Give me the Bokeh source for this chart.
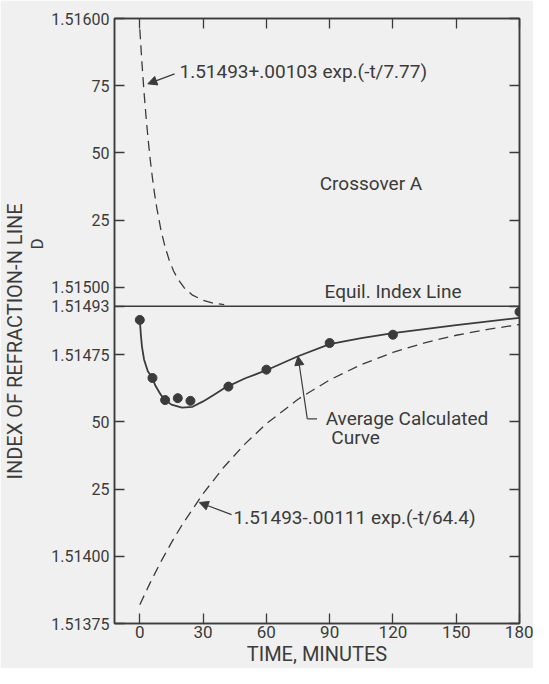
from bokeh.plotting import figure
from bokeh.models import (FixedTicker, LinearAxis, Span, Label, Arrow, NormalHead,
                          Range1d, Title)
from bokeh.embed import file_html
from bokeh.resources import INLINE

# ---------------- data ----------------
MEAS_T = [0, 6, 12, 18, 24, 42, 60, 90, 120, 180]
MEAS_N = [1.514879, 1.514663, 1.514581, 1.514588, 1.514578,
          1.514631, 1.514694, 1.514793, 1.514824, 1.514909]

AVG_T = [0, 0.5, 1, 2, 3.75, 6, 7.5, 10, 12, 15, 20, 25, 30, 35, 40, 42,
         50, 60, 75, 90, 105, 120, 150, 180]
AVG_N = [1.514879, 1.514824, 1.514781, 1.514732, 1.514689, 1.514661,
         1.514633, 1.514600, 1.514581, 1.514564, 1.514553, 1.514556,
         1.514576, 1.514600, 1.514625, 1.514633, 1.514662, 1.514692,
         1.514744, 1.514789, 1.514811, 1.514830, 1.514860, 1.514887]

UP_T = [0, 1, 2, 3, 4, 5, 6, 7, 8, 10, 12, 14, 16, 18, 21, 25, 30, 35, 40]
UP_N = [1.51596, 1.515836, 1.515726, 1.51563, 1.515546, 1.515471, 1.515406,
        1.515348, 1.515298, 1.515214, 1.51515, 1.5151, 1.515061, 1.515032,
        1.514999, 1.514971, 1.514952, 1.514941, 1.514936]

LOW_T = [0, 5, 10, 15, 20, 30, 40, 50, 60, 75, 90, 105, 120, 135, 150, 165, 180]
LOW_N = [1.51382, 1.513903, 1.51398, 1.514051, 1.514116, 1.514233, 1.514333,
         1.514419, 1.514493, 1.514584, 1.514656, 1.514713, 1.514758,
         1.514794, 1.514822, 1.514844, 1.514862]

EQUIL = 1.51493

X_TICKS = [0, 30, 60, 90, 120, 150, 180]
Y_TICKS = [1.51375, 1.514, 1.51425, 1.5145, 1.51475, 1.51493,
           1.515, 1.51525, 1.5155, 1.51575, 1.516]
Y_LABELS = ["1.51375", "1.51400", "25", "50", "1.51475", "1.51493",
            "1.51500", "25", "50", "75", "1.51600"]

# ---------------- style ----------------
INK = "#3b3b3b"
BG = "#f0f0f0"
FONT = "Roboto"

p = figure(width=533, height=668,
           x_range=Range1d(-12, 180), y_range=Range1d(1.51375, 1.516),
           output_backend="svg", toolbar_location=None,
           min_border_left=100, min_border_right=14,
           min_border_top=18, min_border_bottom=30)
p.background_fill_color = BG
p.border_fill_color = BG
p.grid.visible = False
p.outline_line_color = INK
p.outline_line_width = 1.5


def style_axis(ax, ticks, size="17px", labels=True):
    ax.ticker = FixedTicker(ticks=ticks, minor_ticks=[])
    ax.major_tick_in = 10
    ax.major_tick_out = 0
    ax.minor_tick_line_color = None
    ax.axis_line_color = INK
    ax.axis_line_width = 1.5
    ax.major_tick_line_color = INK
    ax.major_tick_line_width = 1.3
    if labels:
        ax.major_label_text_font = FONT
        ax.major_label_text_font_size = size
        ax.major_label_text_color = INK
    else:
        ax.major_label_text_font_size = "0px"
        ax.major_label_standoff = 0
        ax.major_label_overrides = {t: "" for t in ticks}


xax = p.xaxis[0]
style_axis(xax, X_TICKS, "17px")
xax.major_label_standoff = 2
xax.axis_label = "TIME, MINUTES"
xax.axis_label_text_font = FONT
xax.axis_label_text_font_size = "20px"
xax.axis_label_text_font_style = "normal"
xax.axis_label_text_color = INK
xax.axis_label_standoff = 1

yax = p.yaxis[0]
style_axis(yax, Y_TICKS, "16px")
yax.major_label_standoff = 5
yax.major_label_overrides = {t: s for t, s in zip(Y_TICKS, Y_LABELS)}

top_ax = LinearAxis()
style_axis(top_ax, X_TICKS, labels=False)
p.add_layout(top_ax, "above")
right_ax = LinearAxis()
style_axis(right_ax, Y_TICKS, labels=False)
p.add_layout(right_ax, "right")

# y-axis title: subscript "D" in the column nearer the axis, main text outside it
TT = dict(text_font=FONT, text_color=INK, text_font_style="normal",
          align="left", standoff=0)
p.add_layout(Title(text="D", text_font_size="17px", offset=374,
                   vertical_align="top", text_line_height=0.6, **TT), "left")
p.add_layout(Title(text="INDEX OF REFRACTION-N  LINE", text_font_size="20px",
                   offset=144, vertical_align="bottom", **TT), "left")

# equilibrium line
p.add_layout(Span(location=EQUIL, dimension="width", line_color=INK, line_width=1.5))

# curves
p.line(UP_T, UP_N, line_color=INK, line_width=1.3, line_dash="10 6")
p.line(LOW_T, LOW_N, line_color=INK, line_width=1.3, line_dash="10 6")
p.line(AVG_T, AVG_N, line_color=INK, line_width=1.8)
p.scatter(MEAS_T, MEAS_N, size=9, fill_color=INK, line_color=INK)

# annotations
ANN = dict(text_font=FONT, text_font_size="19px", text_color=INK)
p.add_layout(Label(x=18.8, y=1.515802, text="1.51493+.00103 exp.(-t/7.77)",
                   text_baseline="middle", **ANN))
p.add_layout(Label(x=85.3, y=1.515385, text="Crossover  A",
                   text_baseline="middle", **ANN))
p.add_layout(Label(x=87.6, y=1.514985, text="Equil. Index Line",
                   text_baseline="middle", **ANN))
p.add_layout(Label(x=88.1, y=1.514511, text="Average Calculated",
                   text_baseline="middle", **ANN))
p.add_layout(Label(x=90.8, y=1.514441, text="Curve",
                   text_baseline="middle", **ANN))
p.add_layout(Label(x=44.4, y=1.514144, text="1.51493-.00111 exp.(-t/64.4)",
                   text_baseline="middle", **ANN))

HEAD = dict(size=9, fill_color=INK, line_color=INK)
p.add_layout(Arrow(end=NormalHead(**HEAD), x_start=16.5, y_start=1.515794,
                   x_end=3.8, y_end=1.515757, line_color=INK, line_width=1.2))
p.add_layout(Arrow(end=NormalHead(**HEAD), x_start=43.5, y_start=1.514155,
                   x_end=28.2, y_end=1.514200, line_color=INK, line_width=1.2))
p.add_layout(Arrow(end=None, x_start=84.0, y_start=1.514511,
                   x_end=79.4, y_end=1.514511, line_color=INK, line_width=1.2))
p.add_layout(Arrow(end=NormalHead(**HEAD), x_start=79.4, y_start=1.514511,
                   x_end=75.0, y_end=1.514744, line_color=INK, line_width=1.2))

open("out.html", "w").write(file_html(p, INLINE))
